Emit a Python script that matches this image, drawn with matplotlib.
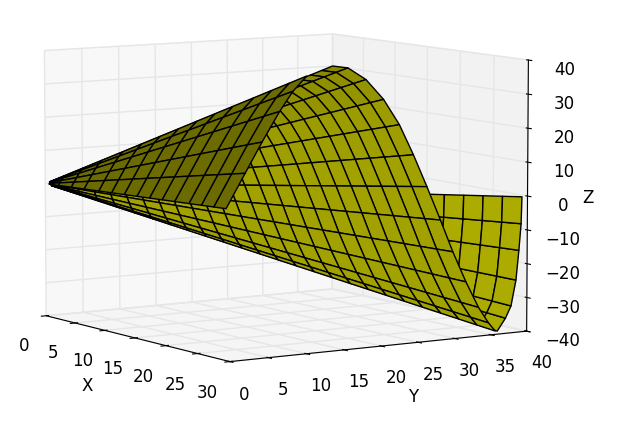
import matplotlib
matplotlib.use('Agg')
import matplotlib.pyplot as plt
import numpy as np

plt.rcParams['font.size'] = 12

# falling part of the rim, from the crest down to the lowest point
fall_x = [0, 2.5, 5.4, 8.2, 10.7, 12.9, 15, 17.1, 19, 21, 22.9, 24.4, 25.4]
fall_y = [40, 40, 40, 40, 40, 40, 40, 40, 40, 40, 40, 40, 40]
fall_z = [30, 30.1, 27.3, 22, 15, 6.5, -2.5, -11.9, -20.8, -29.1, -36, -40, -42]
fall_shade = [0.54, 0.56, 0.58, 0.61, 0.62, 0.63, 0.63, 0.63, 0.63, 0.63, 0.63, 0.63]
# rising part of the rim, behind the falling part
rise_x = [25.7, 26.9, 27.7, 28.4, 28.8, 29.1, 29.2]
rise_y = [40, 40, 40, 40, 40, 40, 40]
rise_z = [-41.9, -37.5, -33.5, -25.5, -16.5, -8.5, -0.5]
# dark wedge on the ridge, last ring
wedge_x = [0, 0, 0, 0, 0, 0]
wedge_y = [24.8, 27.5, 29.9, 32.4, 34.3, 36.3]
wedge_z = [-12, -1.5, 7.8, 16.9, 22.9, 27.4]
# rings along the rulings
rings = [.014, .04, .08, .12, .16, .2, .24, .28, .32, .36, .4, .44, .48, .52, .56, .6, .64, .68, .72, .76, .8, .84, .88, .92, .96, 1]
wedge_rings = [.02, .07, .14, .21, .29, .36, .43, .5, .57, .64, .71, .79, .86, .93, 1]

x_ticks = [0, 5, 10, 15, 20, 25, 30]
y_ticks = [0, 5, 10, 15, 20, 25, 30, 35, 40]
z_ticks = [-40, -30, -20, -10, 0, 10, 20, 30, 40]


def sheet(ax, r, rim_x, rim_y, rim_z, colors, zorder):
    X = np.outer(r, rim_x)
    Y = np.outer(r, rim_y)
    Z = np.outer(r, rim_z)
    fc = np.zeros((len(r) - 1, len(rim_x) - 1, 4))
    fc[:, :, 0] = colors
    fc[:, :, 1] = colors
    fc[:, :, 3] = 1
    surf = ax.plot_surface(X, Y, Z, rstride=1, cstride=1, facecolors=fc, edgecolor='k',
                           linewidth=1, shade=False, zorder=zorder)
    surf.set_clip_on(False)


fig = plt.figure(figsize=(6.24, 4.23), dpi=100)
ax = fig.add_axes([-34 / 624, 16 / 423, 1, 1], projection='3d', computed_zorder=False)
sheet(ax, rings, rise_x, rise_y, rise_z, 0.67, 1)
sheet(ax, rings, fall_x, fall_y, fall_z, fall_shade, 2)
sheet(ax, wedge_rings, wedge_x, wedge_y, wedge_z, 0.42, 3)
ax.set_xlim(0, 30)
ax.set_ylim(0, 40)
ax.set_zlim(-40, 40)
ax.set_xticks(x_ticks)
ax.set_yticks(y_ticks)
ax.set_zticks(z_ticks)
ax.set_xlabel('X')
ax.set_ylabel('Y')
ax.zaxis.set_rotate_label(False)
ax.set_zlabel('Z', labelpad=-1.5)
ax.view_init(elev=7, azim=-33)
ax.set_proj_type('persp', focal_length=2)
ax.set_box_aspect((4, 4, 3.1), zoom=1.29)
for axis in (ax.xaxis, ax.yaxis, ax.zaxis):
    axis._axinfo['grid']['color'] = (0.9, 0.9, 0.9, 1)
    axis._axinfo['grid']['linewidth'] = 1
fig.savefig('out.png', dpi=100)
